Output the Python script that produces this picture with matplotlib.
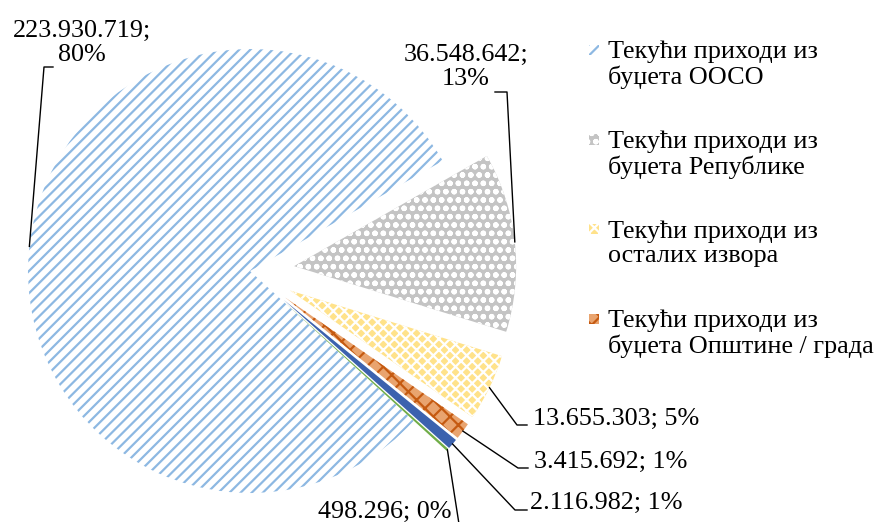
import matplotlib.pyplot as plt
import matplotlib.patches as mpatches
import numpy as np

plt.rcParams['font.family'] = ['Liberation Serif', 'DejaVu Serif']
plt.rcParams['hatch.linewidth'] = 1.6

# Текући приходи (динара)
values = [223930719, 36548642, 13655303, 3415692, 2116982, 498296]
value_labels = ["223.930.719;\n80%", "36.548.642;\n13%", "13.655.303; 5%",
                "3.415.692; 1%", "2.116.982; 1%", "498.296; 0%"]
legend_names = ["Текући приходи из\nбуџета ООСО",
                "Текући приходи из\nбуџета Републике",
                "Текући приходи из\nосталих извора",
                "Текући приходи из\nбуџета Општине / града"]

faces = ["white", "#C4C4C4", "#FFE28A", "#E9A46F", "#3C62AE", "#70AD47"]
hatch_colors = ["#8DB8E2", "white", "white", "#C55A11", "#3C62AE", "#70AD47"]
hatches = ["///", "oo", "xxx", "xx", None, None]
explode = [0, 0.2, 0.2, 0.2, 0.2, 0.2]

W, H = 881, 522
CX, CY, R = 250, 271, 222
fs = 18.8


def px(x, y):
    return (x - CX) / R, (CY - y) / R


fig = plt.figure(figsize=(W / 100, H / 100), dpi=100)
ax = fig.add_axes([0, 0, 1, 1])
wedges, _ = ax.pie(values, explode=explode, startangle=-42.5, counterclock=False,
                   radius=1, center=(0, 0))
for w, fc, hc, h in zip(wedges, faces, hatch_colors, hatches):
    w.set_facecolor(fc)
    w.set_edgecolor(hc)
    w.set_linewidth(0)
    w.set_hatch(h)

ax.set_xlim(-CX / R, (W - CX) / R)
ax.set_ylim(-(H - CY) / R, CY / R)
ax.set_aspect('auto')
ax.axis('off')

# label layout in pixels: elbow, line end, text anchor, alignment
layout = [
    ((44, 67), (53, 67), (82, 42.5), 'center'),
    ((507, 92), (495, 92), (466, 67), 'center'),
    ((517, 425), (527, 425), (533, 419), 'left'),
    ((518, 468), (528, 468), (534, 462), 'left'),
    ((515, 510), (527, 510), (530, 503), 'left'),
    ((459, 524), (459, 524), (452, 512), 'right'),
]

for w, lab, (elb, end, tpos, ha) in zip(wedges, value_labels, layout):
    t = np.deg2rad((w.theta1 + w.theta2) / 2)
    ax0 = w.center[0] + w.r * np.cos(t)
    ay0 = w.center[1] + w.r * np.sin(t)
    ex, ey = px(*elb)
    nx, ny = px(*end)
    ax.plot([ax0, ex, nx], [ay0, ey, ny], color='black', lw=1.0, clip_on=False)
    tx, ty = px(*tpos)
    ax.text(tx, ty, lab, ha=ha, va='center', fontsize=fs, multialignment='center',
            linespacing=1.12)

# legend (only four entries visible)
for i, name in enumerate(legend_names):
    y1 = 50 + 89.5 * i
    rect = mpatches.Rectangle((589 / W, 1 - (y1 + 5) / H), 10 / W, 10 / H,
                              transform=fig.transFigure, facecolor=faces[i],
                              edgecolor=hatch_colors[i], linewidth=0, hatch=hatches[i])
    fig.patches.append(rect)
    fig.text(608 / W, 1 - (y1 + 15) / H, name, ha='left', va='center', fontsize=fs,
             linespacing=1.12)

fig.savefig('out.png', dpi=100)
